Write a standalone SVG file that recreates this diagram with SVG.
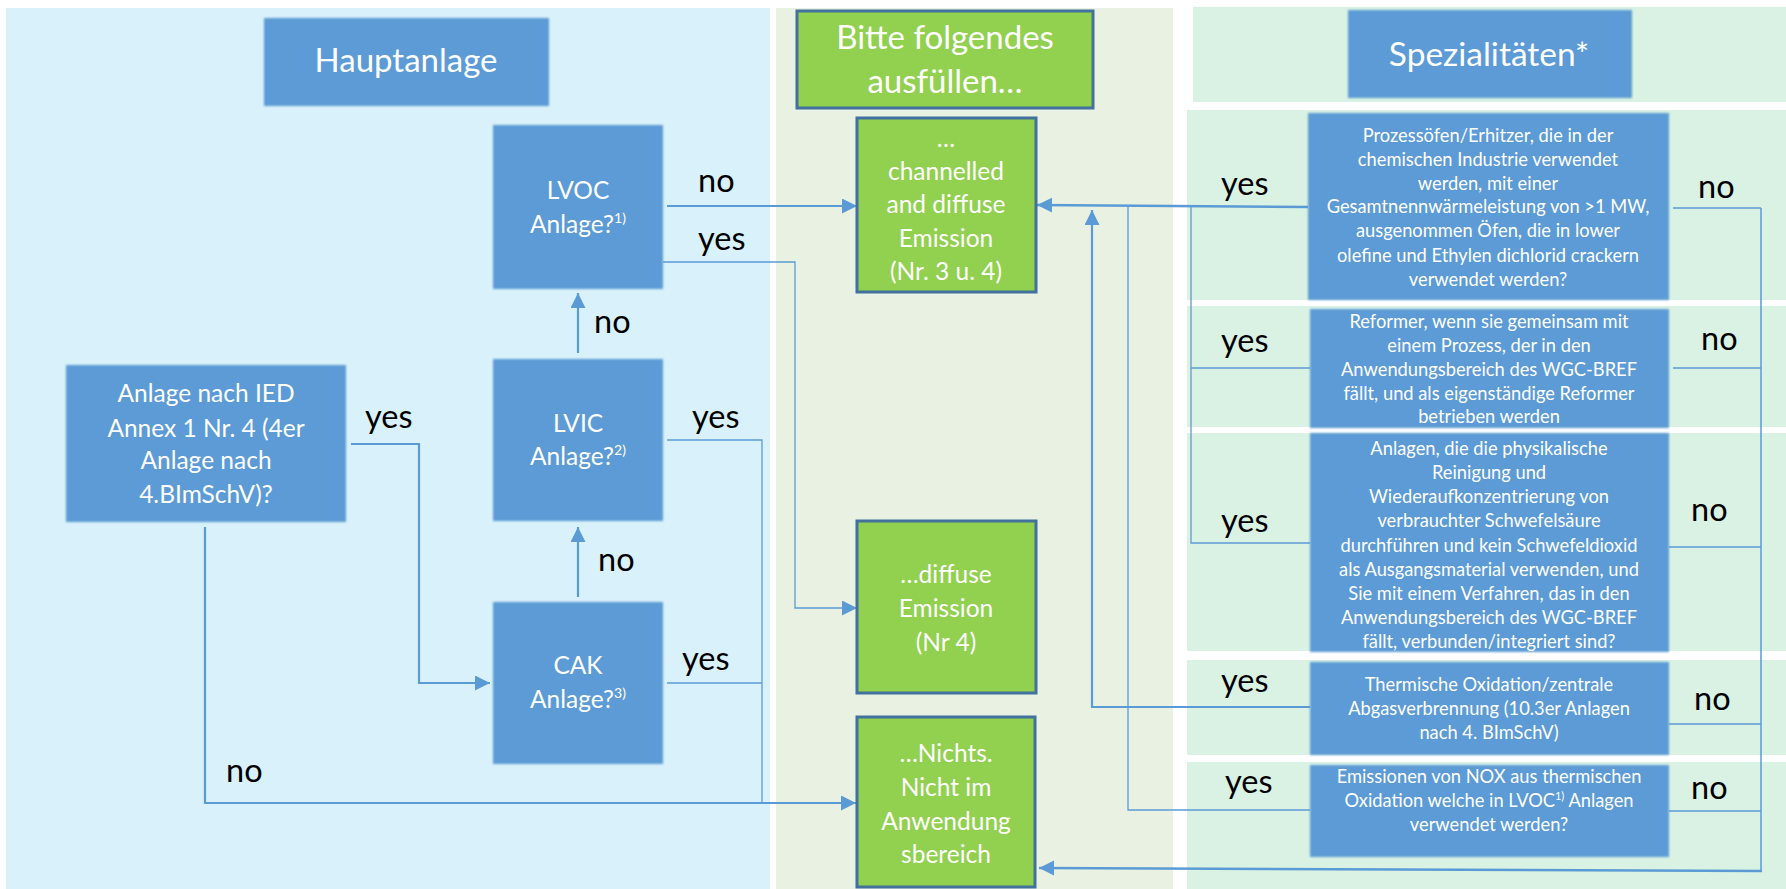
<svg xmlns="http://www.w3.org/2000/svg" width="1786" height="889" viewBox="0 0 1786 889">
<defs>
<style>
.bx{fill:#5b9bd5;filter:url(#soft)}
.gb{fill:#92d050;stroke:#41719c;stroke-width:3}
.t{font-family:Lato,"Open Sans","Liberation Sans",sans-serif;fill:#fff;text-anchor:middle}
.l{font-family:Lato,"Open Sans","Liberation Sans",sans-serif;fill:#000;font-size:32.5px}
.c{fill:none;stroke:#5b9bd5}
.w1{stroke-width:1.3}
.w2{stroke-width:2.2}
.s24{font-size:24.5px}
.s18{font-size:18.3px}
</style>
<filter id="soft" x="-5%" y="-5%" width="110%" height="110%"><feGaussianBlur stdDeviation="0.9"/></filter>
<marker id="ah" markerUnits="userSpaceOnUse" markerWidth="16" markerHeight="16" refX="15" refY="7.5" orient="auto"><path d="M0,0 L15,7.5 L0,15 z" fill="#5b9bd5"/></marker>
</defs>
<rect width="1786" height="889" fill="#fff"/>
<rect x="6" y="8" width="764" height="881" fill="#d9f1fa"/>
<rect x="776" y="8" width="397" height="881" fill="#e9f1e3"/>
<rect x="1193" y="7" width="593" height="95" fill="#d9f2e4"/>
<rect x="1187" y="110" width="599" height="190" fill="#d9f2e4"/>
<rect x="1187" y="306" width="599" height="121" fill="#d9f2e4"/>
<rect x="1187" y="433" width="599" height="218" fill="#d9f2e4"/>
<rect x="1187" y="660" width="599" height="95" fill="#d9f2e4"/>
<rect x="1187" y="762" width="599" height="127" fill="#d9f2e4"/>

<g id="connectors">
<path class="c w2" d="M667,206 L857,206" marker-end="url(#ah)"/>
<path class="c w1" d="M663,262 L795,262 L795,608 L857,608" marker-end="url(#ah)"/>
<path class="c w2" d="M578,353 L578,293" marker-end="url(#ah)"/>
<path class="c w2" d="M578,597 L578,527" marker-end="url(#ah)"/>
<path class="c w2" d="M351,444 L419,444 L419,683 L490,683" marker-end="url(#ah)"/>
<path class="c w1" d="M667,440 L762,440 L762,803"/>
<path class="c w1" d="M667,683 L762,683"/>
<path class="c w2" d="M205,527 L205,803 L856,803" marker-end="url(#ah)"/>
<path class="c" stroke-width="2.5" d="M1308,207 L1037,205" marker-end="url(#ah)"/>
<path class="c w1" d="M1310,368 L1191,368 L1191,206"/>
<path class="c w1" d="M1310,543 L1191,543 L1191,368"/>
<path class="c w2" d="M1310,707 L1092,707 L1092,210" marker-end="url(#ah)"/>
<path class="c w1" d="M1310,810 L1128,810 L1128,206"/>
<path class="c w1" d="M1673,208 L1761,208 M1673,368 L1761,368 M1669,547 L1761,547 M1669,724 L1761,724 M1669,811 L1761,811"/>
<path class="c" stroke-width="1.5" d="M1761,208 L1761,871"/>
<path class="c" stroke-width="2.5" d="M1762,871 L1039,868" marker-end="url(#ah)"/>
</g>

<g id="hauptanlage"><rect class="bx" x="264" y="18" width="285" height="88"/><text class="t" x="406" y="72" font-size="33px">Hauptanlage</text></g>
<g id="lvoc"><rect class="bx" x="493" y="125" width="170" height="164"/><text class="t s24" x="578" y="199">LVOC</text><text class="t s24" x="578" y="233">Anlage?<tspan font-size="14px" dy="-10">1)</tspan></text></g>
<g id="lvic"><rect class="bx" x="493" y="359" width="170" height="162"/><text class="t s24" x="578" y="432">LVIC</text><text class="t s24" x="578" y="465">Anlage?<tspan font-size="14px" dy="-10">2)</tspan></text></g>
<g id="cak"><rect class="bx" x="493" y="602" width="170" height="162"/><text class="t s24" x="578" y="674">CAK</text><text class="t s24" x="578" y="708">Anlage?<tspan font-size="14px" dy="-10">3)</tspan></text></g>
<g id="ied"><rect class="bx" x="66" y="365" width="280" height="157"/>
<text class="t s24" x="206" y="402">Anlage nach IED</text>
<text class="t s24" x="206" y="437">Annex 1 Nr. 4 (4er</text>
<text class="t s24" x="206" y="469">Anlage nach</text>
<text class="t s24" x="206" y="503">4.BImSchV)?</text></g>

<g id="bitte"><rect class="gb" x="797" y="11" width="296" height="97"/><text class="t" x="945" y="49" font-size="33px">Bitte folgendes</text><text class="t" x="945" y="93" font-size="33px">ausfüllen…</text></g>
<g id="channelled"><rect class="gb" x="857" y="118" width="179" height="174"/>
<text class="t s24" x="946" y="147">…</text>
<text class="t s24" x="946" y="180">channelled</text>
<text class="t s24" x="946" y="213">and diffuse</text>
<text class="t s24" x="946" y="247">Emission</text>
<text class="t s24" x="946" y="280">(Nr. 3 u. 4)</text></g>
<g id="diffuse"><rect class="gb" x="857" y="521" width="179" height="172"/>
<text class="t s24" x="946" y="583">…diffuse</text>
<text class="t s24" x="946" y="617">Emission</text>
<text class="t s24" x="946" y="651">(Nr 4)</text></g>
<g id="nichts"><rect class="gb" x="857" y="717" width="178" height="170"/>
<text class="t s24" x="946" y="762">…Nichts.</text>
<text class="t s24" x="946" y="796">Nicht im</text>
<text class="t s24" x="946" y="830">Anwendung</text>
<text class="t s24" x="946" y="863">sbereich</text></g>

<g id="spezialitaeten"><rect class="bx" x="1348" y="10" width="284" height="88"/><text class="t" x="1489" y="66" font-size="33.5px">Spezialitäten*</text></g>
<g id="box1"><rect class="bx" x="1308" y="113" width="361" height="187"/>
<text class="t s18" x="1488" y="142">Prozessöfen/Erhitzer, die in der</text>
<text class="t s18" x="1488" y="166">chemischen Industrie verwendet</text>
<text class="t s18" x="1488" y="190">werden, mit einer</text>
<text class="t s18" x="1488" y="213">Gesamtnennwärmeleistung von &gt;1 MW,</text>
<text class="t s18" x="1488" y="237">ausgenommen Öfen, die in lower</text>
<text class="t s18" x="1488" y="262">olefine und Ethylen dichlorid crackern</text>
<text class="t s18" x="1488" y="286">verwendet werden?</text></g>
<g id="box2"><rect class="bx" x="1310" y="309" width="359" height="119"/>
<text class="t s18" x="1489" y="328">Reformer, wenn sie gemeinsam mit</text>
<text class="t s18" x="1489" y="352">einem Prozess, der in den</text>
<text class="t s18" x="1489" y="376">Anwendungsbereich des WGC-BREF</text>
<text class="t s18" x="1489" y="400">fällt, und als eigenständige Reformer</text>
<text class="t s18" x="1489" y="423">betrieben werden</text></g>
<g id="box3"><rect class="bx" x="1310" y="433" width="359" height="219"/>
<text class="t s18" x="1489" y="455">Anlagen, die die physikalische</text>
<text class="t s18" x="1489" y="479">Reinigung und</text>
<text class="t s18" x="1489" y="503">Wiederaufkonzentrierung von</text>
<text class="t s18" x="1489" y="527">verbrauchter Schwefelsäure</text>
<text class="t s18" x="1489" y="552">durchführen und kein Schwefeldioxid</text>
<text class="t s18" x="1489" y="576">als Ausgangsmaterial verwenden, und</text>
<text class="t s18" x="1489" y="600">Sie mit einem Verfahren, das in den</text>
<text class="t s18" x="1489" y="624">Anwendungsbereich des WGC-BREF</text>
<text class="t s18" x="1489" y="648">fällt, verbunden/integriert sind?</text></g>
<g id="box4"><rect class="bx" x="1310" y="662" width="359" height="93"/>
<text class="t s18" x="1489" y="691">Thermische Oxidation/zentrale</text>
<text class="t s18" x="1489" y="715">Abgasverbrennung (10.3er Anlagen</text>
<text class="t s18" x="1489" y="739">nach 4. BImSchV)</text></g>
<g id="box5"><rect class="bx" x="1310" y="765" width="359" height="92"/>
<text class="t s18" x="1489" y="783">Emissionen von NOX aus thermischen</text>
<text class="t s18" x="1489" y="807">Oxidation welche in LVOC<tspan font-size="11px" dy="-7">1)</tspan><tspan dy="7"> Anlagen</tspan></text>
<text class="t s18" x="1489" y="831">verwendet werden?</text></g>

<g id="labels">
<text class="l" x="698" y="192">no</text>
<text class="l" x="698" y="250">yes</text>
<text class="l" x="594" y="333">no</text>
<text class="l" x="365" y="428">yes</text>
<text class="l" x="692" y="428">yes</text>
<text class="l" x="598" y="571">no</text>
<text class="l" x="682" y="670">yes</text>
<text class="l" x="226" y="782">no</text>
<text class="l" x="1221" y="195">yes</text>
<text class="l" x="1221" y="352">yes</text>
<text class="l" x="1221" y="532">yes</text>
<text class="l" x="1221" y="692">yes</text>
<text class="l" x="1225" y="793">yes</text>
<text class="l" x="1698" y="198">no</text>
<text class="l" x="1701" y="350">no</text>
<text class="l" x="1691" y="521">no</text>
<text class="l" x="1694" y="710">no</text>
<text class="l" x="1691" y="799">no</text>
</g>
</svg>
